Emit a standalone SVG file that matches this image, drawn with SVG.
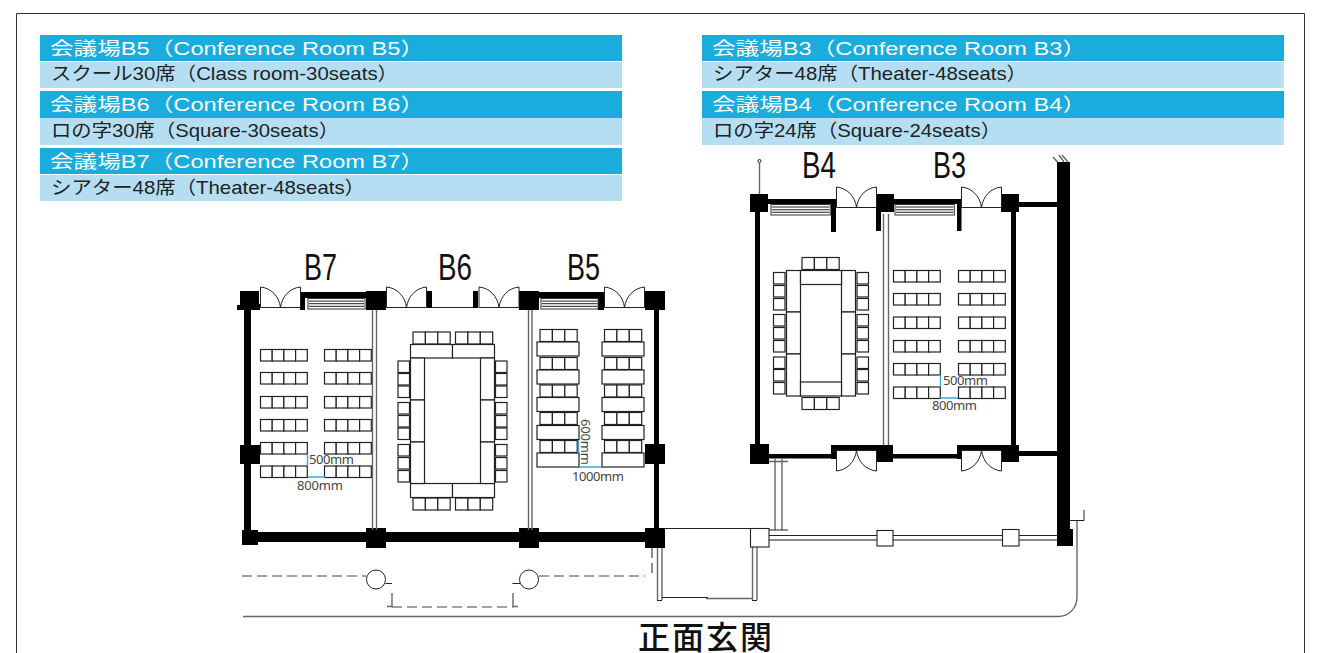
<svg xmlns="http://www.w3.org/2000/svg" width="1318" height="653" viewBox="0 0 1318 653">
<style>
.bg{fill:#fff}
.frame{fill:none;stroke:#333;stroke-width:1}
.hd{fill:#19acdd}
.sub{fill:#b5def3}
.t1{font-family:"Liberation Sans","Noto Sans CJK JP",sans-serif;font-size:18.500px;fill:#fff}
.t2{font-family:"Liberation Sans","Noto Sans CJK JP",sans-serif;font-size:18.500px;fill:#222}
.rm{font-family:"Liberation Sans",sans-serif;font-size:36px;fill:#111}
.dim{font-family:"Noto Sans",sans-serif;font-size:13px;fill:#444}
.ent{font-family:"Noto Sans CJK JP",sans-serif;font-size:32px;font-weight:500;fill:#111;letter-spacing:2px}
.w{fill:#000}
.ln{fill:none;stroke:#222;stroke-width:1}
.gl{fill:none;stroke:#666;stroke-width:1.4}
.dl{fill:none;stroke:#444;stroke-width:1.2;stroke-dasharray:10 5}
.st{fill:#fff;stroke:#222;stroke-width:1.200}
.bl{fill:none;stroke:#3aa9dc;stroke-width:1.400}
.bw{fill:#fff;stroke:#222;stroke-width:1.100}
</style>
<defs>
<g id="seat4"><rect class="st" x="0.5" y="0.5" width="11.7" height="11.5"/><rect class="st" x="12.2" y="0.5" width="11.7" height="11.5"/><rect class="st" x="23.9" y="0.5" width="11.7" height="11.5"/><rect class="st" x="35.6" y="0.5" width="11.7" height="11.5"/></g>
<g id="seat3"><rect class="st" x="0.5" y="0.5" width="12.4" height="12"/><rect class="st" x="12.9" y="0.5" width="12.4" height="12"/><rect class="st" x="25.3" y="0.5" width="12.4" height="12"/></g>
<rect id="seat1" class="st" x="0.5" y="0.5" width="11.5" height="11.5"/>
<rect id="tbl" class="st" x="0.5" y="0.5" width="42" height="14"/>
<g id="door"><path class="ln" d="M0.5 20.5H40.5M0.5 20.5V0C11 1 19 9 20.5 20.5C22 9 30 1 40.5 0V20.5"/></g>
<g id="vent"><rect x="0" y="0" width="57" height="10.500" fill="#fff" stroke="#333" stroke-width="1"/><path d="M1 2.600H56M1 5.200H56M1 7.800H56" stroke="#222" stroke-width="1"/></g>
</defs>
<rect class="bg" width="1318" height="653"/>
<path class="frame" d="M16.500 653V13.500H1304.500V653"/>

<g id="legend-b5"><rect class="hd" x="40" y="35" width="582" height="26"/><rect class="sub" x="40" y="62" width="582" height="26"/><text class="t1" x="50" y="55" textLength="374" lengthAdjust="spacingAndGlyphs">会議場B5（Conference Room B5）</text><text class="t2" x="51" y="80" textLength="347" lengthAdjust="spacingAndGlyphs">スクール30席（Class room-30seats）</text></g>
<g id="legend-b6"><rect class="hd" x="40" y="91" width="582" height="27"/><rect class="sub" x="40" y="118" width="582" height="27"/><text class="t1" x="50" y="111" textLength="374" lengthAdjust="spacingAndGlyphs">会議場B6（Conference Room B6）</text><text class="t2" x="51" y="137" textLength="288" lengthAdjust="spacingAndGlyphs">ロの字30席（Square-30seats）</text></g>
<g id="legend-b7"><rect class="hd" x="40" y="148" width="582" height="26"/><rect class="sub" x="40" y="175" width="582" height="26"/><text class="t1" x="50" y="168" textLength="374" lengthAdjust="spacingAndGlyphs">会議場B7（Conference Room B7）</text><text class="t2" x="51" y="194" textLength="314" lengthAdjust="spacingAndGlyphs">シアター48席（Theater-48seats）</text></g>
<g id="legend-b3"><rect class="hd" x="702" y="35" width="582" height="26"/><rect class="sub" x="702" y="62" width="582" height="26"/><text class="t1" x="712" y="55" textLength="374" lengthAdjust="spacingAndGlyphs">会議場B3（Conference Room B3）</text><text class="t2" x="713" y="80" textLength="314" lengthAdjust="spacingAndGlyphs">シアター48席（Theater-48seats）</text></g>
<g id="legend-b4"><rect class="hd" x="702" y="91" width="582" height="27"/><rect class="sub" x="702" y="118" width="582" height="27"/><text class="t1" x="712" y="111" textLength="374" lengthAdjust="spacingAndGlyphs">会議場B4（Conference Room B4）</text><text class="t2" x="713" y="137" textLength="288" lengthAdjust="spacingAndGlyphs">ロの字24席（Square-24seats）</text></g>

<g id="walls-lower">
<path class="w" d="M240 291H259V310H240ZM366 291H386V310H366ZM519 291H539V310H519ZM645 291H665V310H645ZM237 305H241V310H237ZM259 304H260V310H259Z"/>
<rect class="w" x="301" y="292" width="65" height="6"/><rect class="w" x="300" y="292" width="5" height="18"/><rect class="w" x="427" y="291" width="5" height="17"/><rect class="w" x="473" y="291" width="5" height="17"/><rect class="w" x="539" y="292" width="65" height="6"/><rect class="w" x="598" y="292" width="6" height="18"/>
<path class="ln" d="M432 307.500H473"/>
<use href="#door" transform="translate(260,287)"/><use href="#door" transform="translate(386,287)"/><use href="#door" transform="translate(478.500,287)"/><use href="#door" transform="translate(604,287)"/>
<use href="#vent" transform="translate(308,298.500)"/><use href="#vent" transform="translate(541,298.500)"/>
<rect class="w" x="244" y="310" width="7" height="222"/><rect class="w" x="654" y="310" width="5" height="222"/>
<rect class="w" x="240" y="445" width="20" height="19"/><rect class="w" x="645" y="444" width="20" height="20"/>
<rect class="w" x="245" y="532" width="410" height="10"/>
<rect class="w" x="242" y="530" width="16" height="15"/><rect class="w" x="366" y="528" width="20" height="20"/><rect class="w" x="519" y="528" width="20" height="20"/><rect class="w" x="645" y="528" width="20" height="20"/>
<path class="gl" d="M372.500 310V530M376.500 310V530M528.500 310V530M532 310V530"/>
</g>

<g id="room-b7">
<text class="rm" x="304" y="280" textLength="33" lengthAdjust="spacingAndGlyphs">B7</text>
<use href="#seat4" x="260" y="349"/><use href="#seat4" x="324" y="349"/><use href="#seat4" x="260" y="372"/><use href="#seat4" x="324" y="372"/><use href="#seat4" x="260" y="396"/><use href="#seat4" x="324" y="396"/><use href="#seat4" x="260" y="419"/><use href="#seat4" x="324" y="419"/><use href="#seat4" x="260" y="442"/><use href="#seat4" x="324" y="442"/><use href="#seat4" x="260" y="465.500"/><use href="#seat4" x="324" y="465.500"/>
<path class="bl" d="M307.500 454V465M308 477H325"/>
<text class="dim" x="309" y="464" textLength="45">500mm</text><text class="dim" x="297" y="490" textLength="46">800mm</text>
</g>

<g id="room-b6">
<text class="rm" x="438" y="280" textLength="34" lengthAdjust="spacingAndGlyphs">B6</text>
<use href="#seat3" x="412.500" y="331.500"/><use href="#seat3" x="455" y="331.500"/><use href="#seat3" x="412.500" y="497.500"/><use href="#seat3" x="455" y="497.500"/>
<rect class="st" x="410.500" y="344.500" width="42" height="13.500"/><rect class="st" x="452.500" y="344.500" width="42" height="13.500"/>
<rect class="st" x="410.500" y="483.500" width="42" height="14"/><rect class="st" x="452.500" y="483.500" width="42" height="14"/>
<rect class="st" x="410.500" y="358" width="14" height="42"/><rect class="st" x="410.500" y="400" width="14" height="42"/><rect class="st" x="410.500" y="442" width="14" height="41.500"/>
<rect class="st" x="480.500" y="358" width="14" height="42"/><rect class="st" x="480.500" y="400" width="14" height="42"/><rect class="st" x="480.500" y="442" width="14" height="41.500"/>
<use href="#seat1" x="397.500" y="360.500"/><use href="#seat1" x="397.500" y="373"/><use href="#seat1" x="397.500" y="385.500"/><use href="#seat1" x="397.500" y="402"/><use href="#seat1" x="397.500" y="415"/><use href="#seat1" x="397.500" y="427.500"/><use href="#seat1" x="397.500" y="444"/><use href="#seat1" x="397.500" y="457"/><use href="#seat1" x="397.500" y="470"/>
<use href="#seat1" x="495" y="360.500"/><use href="#seat1" x="495" y="373"/><use href="#seat1" x="495" y="385.500"/><use href="#seat1" x="495" y="402"/><use href="#seat1" x="495" y="415"/><use href="#seat1" x="495" y="427.500"/><use href="#seat1" x="495" y="444"/><use href="#seat1" x="495" y="457"/><use href="#seat1" x="495" y="470"/>
</g>

<g id="room-b5">
<text class="rm" x="567" y="280" textLength="33" lengthAdjust="spacingAndGlyphs">B5</text>
<use href="#seat3" x="539.500" y="329"/><use href="#seat3" x="539.500" y="357"/><use href="#seat3" x="539.500" y="384.500"/><use href="#seat3" x="539.500" y="412"/><use href="#seat3" x="539.500" y="440"/>
<use href="#seat3" x="604" y="329"/><use href="#seat3" x="604" y="357"/><use href="#seat3" x="604" y="384.500"/><use href="#seat3" x="604" y="412"/><use href="#seat3" x="604" y="440"/>
<use href="#tbl" x="536.500" y="341.500"/><use href="#tbl" x="536.500" y="369.500"/><use href="#tbl" x="536.500" y="397"/><use href="#tbl" x="536.500" y="425"/><use href="#tbl" x="536.500" y="452.500"/>
<use href="#tbl" x="601.500" y="341.500"/><use href="#tbl" x="601.500" y="369.500"/><use href="#tbl" x="601.500" y="397"/><use href="#tbl" x="601.500" y="425"/><use href="#tbl" x="601.500" y="452.500"/>
<path class="bl" d="M578.500 440V453M579 467H602"/>
<text class="dim" transform="translate(581,419) rotate(90)" textLength="46">600mm</text><text class="dim" x="572" y="481" textLength="52">1000mm</text>
</g>

<g id="walls-upper">
<circle class="ln" cx="759.500" cy="161" r="1.500"/><path class="gl" d="M759.500 162.500V194"/>
<rect class="w" x="750" y="194" width="18" height="18"/><rect class="w" x="877" y="194" width="17" height="18"/><rect class="w" x="1001" y="194" width="18" height="18"/>
<rect class="w" x="768" y="199" width="68" height="5"/><rect class="w" x="831" y="199" width="5" height="33"/><rect class="w" x="876" y="200" width="5" height="31"/>
<rect class="w" x="894" y="199" width="67" height="5"/><rect class="w" x="957" y="199" width="4.500" height="32"/>
<use href="#door" transform="translate(836,187)"/><use href="#door" transform="translate(961,187)"/>
<use href="#vent" transform="translate(771,204.500) scale(1.040,1)"/><use href="#vent" transform="translate(895,204.500) scale(1.040,1)"/>
<rect class="w" x="755" y="212" width="5" height="232"/><rect class="w" x="1011" y="212" width="5" height="233"/>
<path class="gl" d="M883.500 214V445M888.500 214V445"/>
<rect class="w" x="750" y="444" width="19" height="20"/><rect class="w" x="877" y="445" width="16" height="17"/><rect class="w" x="1002" y="445" width="17" height="17"/>
<rect class="w" x="769" y="454" width="62" height="4.500"/><rect class="w" x="893" y="454" width="64" height="4.500"/><rect class="w" x="831" y="445" width="46" height="6"/><rect class="w" x="831" y="445" width="5" height="14"/><rect class="w" x="957" y="445" width="59" height="6"/><rect class="w" x="957" y="445" width="4.500" height="14"/>
<use href="#door" transform="translate(836,471) scale(1,-1)"/><use href="#door" transform="translate(961,471) scale(1,-1)"/>
<rect class="w" x="1019" y="202" width="38" height="5"/><rect class="w" x="1019" y="451" width="38" height="5"/>
<rect class="w" x="1057" y="162" width="13" height="370"/><rect class="w" x="1057" y="529" width="16" height="17"/>
<path class="gl" d="M1053 157L1057.500 162M1059 155L1064 162M1062 155L1068 162"/>
</g>

<g id="room-b4">
<text class="rm" x="802" y="178" textLength="34" lengthAdjust="spacingAndGlyphs">B4</text>
<use href="#seat3" x="801.500" y="257"/><use href="#seat3" x="801.500" y="397"/>
<rect class="st" x="786.500" y="270.500" width="14" height="41.500"/><rect class="st" x="786.500" y="312" width="14" height="42"/><rect class="st" x="786.500" y="354" width="14" height="42"/>
<rect class="st" x="841.500" y="270.500" width="14" height="41.500"/><rect class="st" x="841.500" y="312" width="14" height="42"/><rect class="st" x="841.500" y="354" width="14" height="42"/>
<rect class="st" x="800.500" y="270.500" width="41" height="14"/><rect class="st" x="800.500" y="382" width="41" height="14"/>
<use href="#seat1" x="773" y="272"/><use href="#seat1" x="773" y="285"/><use href="#seat1" x="773" y="298"/><use href="#seat1" x="773" y="314"/><use href="#seat1" x="773" y="327"/><use href="#seat1" x="773" y="340"/><use href="#seat1" x="773" y="356.500"/><use href="#seat1" x="773" y="369"/><use href="#seat1" x="773" y="382"/>
<use href="#seat1" x="856.500" y="272"/><use href="#seat1" x="856.500" y="285"/><use href="#seat1" x="856.500" y="298"/><use href="#seat1" x="856.500" y="314"/><use href="#seat1" x="856.500" y="327"/><use href="#seat1" x="856.500" y="340"/><use href="#seat1" x="856.500" y="356.500"/><use href="#seat1" x="856.500" y="369"/><use href="#seat1" x="856.500" y="382"/>
</g>

<g id="room-b3">
<text class="rm" x="933" y="178" textLength="33" lengthAdjust="spacingAndGlyphs">B3</text>
<use href="#seat4" x="893" y="270"/><use href="#seat4" x="958" y="270"/><use href="#seat4" x="893" y="293"/><use href="#seat4" x="958" y="293"/><use href="#seat4" x="893" y="316.500"/><use href="#seat4" x="958" y="316.500"/><use href="#seat4" x="893" y="340"/><use href="#seat4" x="958" y="340"/><use href="#seat4" x="893" y="363"/><use href="#seat4" x="958" y="363"/><use href="#seat4" x="893" y="386.500"/><use href="#seat4" x="958" y="386.500"/>
<path class="bl" d="M940.500 375V387M940 398H958"/>
<text class="dim" x="943" y="385" textLength="45">500mm</text><text class="dim" x="932" y="410" textLength="45">800mm</text>
</g>

<g id="connectors">
<path class="ln" d="M665 528.500H750"/>
<path class="gl" d="M775 459V530M782 459V530M769 461.500H788M657.500 548V600M662 548V600M752.500 547V600M757 547V600"/>
<path class="ln" d="M769 530H788M657 600.500H662M752 600.500H757M662 597.500H708"/><path class="gl" d="M706 598.500H752"/>
<path class="ln" d="M769 535.500H877M893 535.500H1002M1019 535.500H1057"/><path class="gl" d="M769 540H877M893 540H1002M1019 540H1057"/>
<rect class="bw" x="750.500" y="528.500" width="18.500" height="18.500"/><rect class="bw" x="877" y="530.500" width="16" height="15.500"/><rect class="bw" x="1002.500" y="529.500" width="16.500" height="16.500"/>
<path class="gl" d="M243 616.500H1058C1069 616.500 1077 608 1077 597V520"/>
<path class="ln" d="M1070 520.500H1084V510"/>
<path class="dl" d="M242 576H366"/><path class="dl" d="M539 576H645"/><path class="dl" d="M652 548V576"/><path class="dl" d="M392 607H513"/>
<circle class="ln" cx="376" cy="579.500" r="9.500"/><circle class="ln" cx="529" cy="579.500" r="9.500"/>
<path class="ln" d="M385.500 583.500H392M512.500 583.500H520"/><path class="gl" d="M392 593V606.500H387M513 593V606.500H518"/>
</g>

<text class="ent" x="638" y="649">正面玄関</text>
</svg>
